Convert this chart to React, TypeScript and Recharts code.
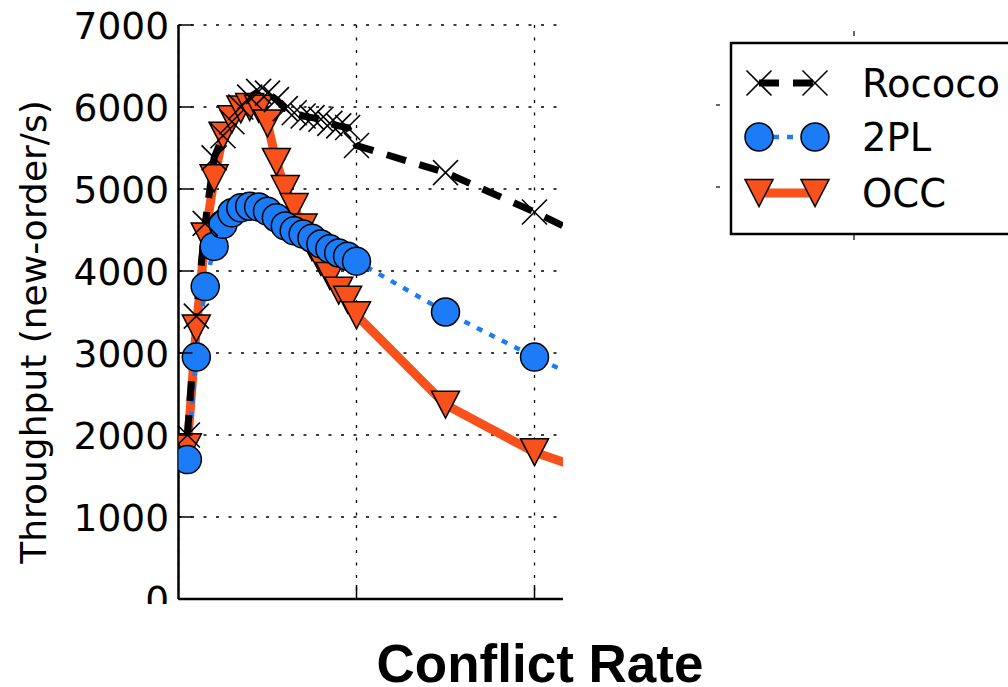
import React from "react"
import { LineChart, Line, XAxis, YAxis, CartesianGrid, Legend } from "recharts"

// conflict rate sample points (last one lies past the visible x range)
const conflictRates = [
  0.05, 0.1, 0.15, 0.2, 0.25, 0.3, 0.35, 0.4, 0.45, 0.5,
  0.55, 0.6, 0.65, 0.7, 0.75, 0.8, 0.85, 0.9, 0.95, 1.0,
  1.5, 2.0, 2.5,
]

const rococo = [
  2000, 3450, 4580, 5380, 5650, 5820, 6000, 6120, 6190, 6170,
  6090, 5980, 5930, 5890, 5870, 5850, 5800, 5770, 5750, 5530,
  5200, 4720, 4190,
]

const twoPL = [
  1700, 2950, 3810, 4300, 4570, 4710, 4770, 4790, 4780, 4730,
  4650, 4550, 4490, 4450, 4400, 4330, 4270, 4220, 4180, 4120,
  3500, 2950, 2450,
]

const occ = [
  1850, 3300, 4420, 5130, 5650, 5850, 5970, 6000, 5980, 5800,
  5330, 5000, 4780, 4530, 4290, 4110, 3940, 3760, 3650, 3460,
  2370, 1790, 1420,
]

const yTicks = [0, 1000, 2000, 3000, 4000, 5000, 6000, 7000]
const xTicks = [0, 1, 2]
const xDomain = [0, 2.16]

const seriesNames = ["Rococo", "2PL", "OCC"]

const data = conflictRates.map((x, i) => ({
  x,
  rococo: rococo[i],
  twoPL: twoPL[i],
  occ: occ[i],
}))

const WIDTH = 1008
const HEIGHT = 687
const PLOT_LEFT = 178.5
const PLOT_RIGHT = 563
const PLOT_TOP = 25
const PLOT_BOTTOM = 599
const Y_AXIS_W = 100
const X_AXIS_H = 20

const BLUE = "#1c7bf6"
const ORANGE = "#f8511c"
const FONT = "'DejaVu Sans', sans-serif"

function YTick(props: any) {
  const { y, payload } = props
  return (
    <g>
      <line x1={PLOT_LEFT} x2={PLOT_LEFT + 14} y1={y} y2={y} stroke="#000" strokeWidth={1.5} />
      <text x={169} y={y + 13.5} textAnchor="end" fontSize={37.5} fontFamily={FONT} fill="#000">
        {payload.value}
      </text>
      {payload.value === 0 && <rect x={120} y={y + 5} width={56} height={40} fill="#fff" />}
    </g>
  )
}

function XTick(props: any) {
  const { x, payload } = props
  if (payload.value <= 0) return <g />
  return (
    <line x1={x} x2={x} y1={PLOT_BOTTOM} y2={PLOT_BOTTOM - 14} stroke="#000" strokeWidth={1.5} />
  )
}

const crossShape = (cx: number, cy: number, k: string) => (
  <g key={k}>
    <line x1={cx - 12.5} y1={cy - 12.5} x2={cx + 12.5} y2={cy + 12.5} stroke="#000" strokeWidth={1.6} />
    <line x1={cx - 12.5} y1={cy + 12.5} x2={cx + 12.5} y2={cy - 12.5} stroke="#000" strokeWidth={1.6} />
  </g>
)

const circleShape = (cx: number, cy: number, k: string) => (
  <circle key={k} cx={cx} cy={cy} r={14} fill={BLUE} stroke="#000" strokeWidth={1.5} />
)

const triangleShape = (cx: number, cy: number, k: string) => (
  <polygon
    key={k}
    points={`${cx - 14},${cy - 13.5} ${cx + 14},${cy - 13.5} ${cx},${cy + 13.5}`}
    fill={ORANGE}
    stroke="#000"
    strokeWidth={1.5}
  />
)

const renderCross = (p: any) => (p.cx == null ? null : crossShape(p.cx, p.cy, `r-${p.index}`))
const renderCircle = (p: any) => (p.cx == null ? null : circleShape(p.cx, p.cy, `c-${p.index}`))
const renderTriangle = (p: any) => (p.cx == null ? null : triangleShape(p.cx, p.cy, `t-${p.index}`))

// grid only at the real x ticks, not at the domain edges
const verticalGrid = (props: any) => {
  const left = props?.offset?.left ?? PLOT_LEFT
  const width = props?.offset?.width ?? PLOT_RIGHT - PLOT_LEFT
  return xTicks.map((t) => left + ((t - xDomain[0]) / (xDomain[1] - xDomain[0])) * width)
}

// legend is drawn by hand so it looks like the matplotlib one
function LegendBox() {
  const ox = 710
  const oy = 28
  const rows = [83 - oy, 137 - oy, 193 - oy]
  const m1 = 759 - ox
  const m2 = 815 - ox
  return (
    <svg width={330} height={230} style={{ overflow: "visible", display: "block" }}>
      {/* stray ticks of the axes hidden behind the legend */}
      <line x1={854 - ox} x2={854 - ox} y1={31 - oy} y2={36 - oy} stroke="#000" strokeWidth={1.2} />
      <line x1={854 - ox} x2={854 - ox} y1={235 - oy} y2={240 - oy} stroke="#000" strokeWidth={1.2} />
      <line x1={716 - ox} x2={720 - ox} y1={105 - oy} y2={105 - oy} stroke="#000" strokeWidth={1.2} />
      <line x1={716 - ox} x2={720 - ox} y1={187 - oy} y2={187 - oy} stroke="#000" strokeWidth={1.2} />
      <rect x={731 - ox} y={43 - oy} width={320} height={191} fill="#fff" stroke="#000" strokeWidth={2.5} />

      <line x1={m1} x2={m2} y1={rows[0]} y2={rows[0]} stroke="#000" strokeWidth={7} strokeDasharray="20 14" />
      {crossShape(m1, rows[0], "l1")}
      {crossShape(m2, rows[0], "l2")}

      <line x1={m1} x2={m2} y1={rows[1]} y2={rows[1]} stroke={BLUE} strokeWidth={4.5} strokeDasharray="6 8" />
      {circleShape(m1, rows[1], "l3")}
      {circleShape(m2, rows[1], "l4")}

      <line x1={m1} x2={m2} y1={rows[2]} y2={rows[2]} stroke={ORANGE} strokeWidth={9} />
      {triangleShape(m1, rows[2], "l5")}
      {triangleShape(m2, rows[2], "l6")}

      {seriesNames.map((name, i) => (
        <text key={name} x={862 - ox} y={rows[i] + 14} fontSize={38.5} fontFamily={FONT} fill="#000">
          {name}
        </text>
      ))}
    </svg>
  )
}

export default function App() {
  return (
    <div
      style={{
        position: "absolute",
        left: 0,
        top: 0,
        width: WIDTH,
        height: HEIGHT,
        overflow: "hidden",
        background: "#fff",
      }}
    >
      <LineChart
        width={WIDTH}
        height={HEIGHT}
        data={data}
        margin={{
          top: PLOT_TOP,
          right: WIDTH - PLOT_RIGHT,
          bottom: HEIGHT - PLOT_BOTTOM - X_AXIS_H,
          left: PLOT_LEFT - Y_AXIS_W,
        }}
      >
        <CartesianGrid
          stroke="#000"
          strokeDasharray="3 9.5"
          strokeWidth={1.3}
          verticalCoordinatesGenerator={verticalGrid}
        />
        <Line
          type="linear"
          dataKey="occ"
          name="OCC"
          stroke={ORANGE}
          strokeWidth={9}
          dot={renderTriangle}
          activeDot={false}
          isAnimationActive={false}
        />
        <Line
          type="linear"
          dataKey="twoPL"
          name="2PL"
          stroke={BLUE}
          strokeWidth={4.5}
          strokeDasharray="6 8"
          dot={renderCircle}
          activeDot={false}
          isAnimationActive={false}
        />
        <Line
          type="linear"
          dataKey="rococo"
          name="Rococo"
          stroke="#000"
          strokeWidth={7}
          strokeDasharray="20 14"
          dot={renderCross}
          activeDot={false}
          isAnimationActive={false}
        />
        <XAxis
          type="number"
          dataKey="x"
          domain={xDomain}
          allowDataOverflow
          ticks={xTicks}
          tick={<XTick />}
          tickLine={false}
          axisLine={{ stroke: "#000", strokeWidth: 2.5 }}
          height={X_AXIS_H}
        />
        <YAxis
          type="number"
          domain={[0, 7000]}
          ticks={yTicks}
          tick={<YTick />}
          tickLine={false}
          axisLine={{ stroke: "#000", strokeWidth: 2.5 }}
          width={Y_AXIS_W}
        />
        <Legend
          layout="horizontal"
          verticalAlign="middle"
          align="center"
          content={<LegendBox />}
          wrapperStyle={{ left: 710, top: 28, width: 330, height: 230 }}
        />
      </LineChart>
      <svg
        width={WIDTH}
        height={HEIGHT}
        style={{ position: "absolute", left: 0, top: 0, pointerEvents: "none" }}
      >
        <text
          transform="translate(46, 332) rotate(-90)"
          textAnchor="middle"
          fontSize={36}
          fontFamily={FONT}
          fill="#000"
        >
          Throughput (new-order/s)
        </text>
        <text
          x={540}
          y={682}
          textAnchor="middle"
          fontSize={53}
          fontWeight="bold"
          fontFamily="'Liberation Sans', Arial, sans-serif"
          fill="#000"
        >
          Conflict Rate
        </text>
      </svg>
    </div>
  )
}
